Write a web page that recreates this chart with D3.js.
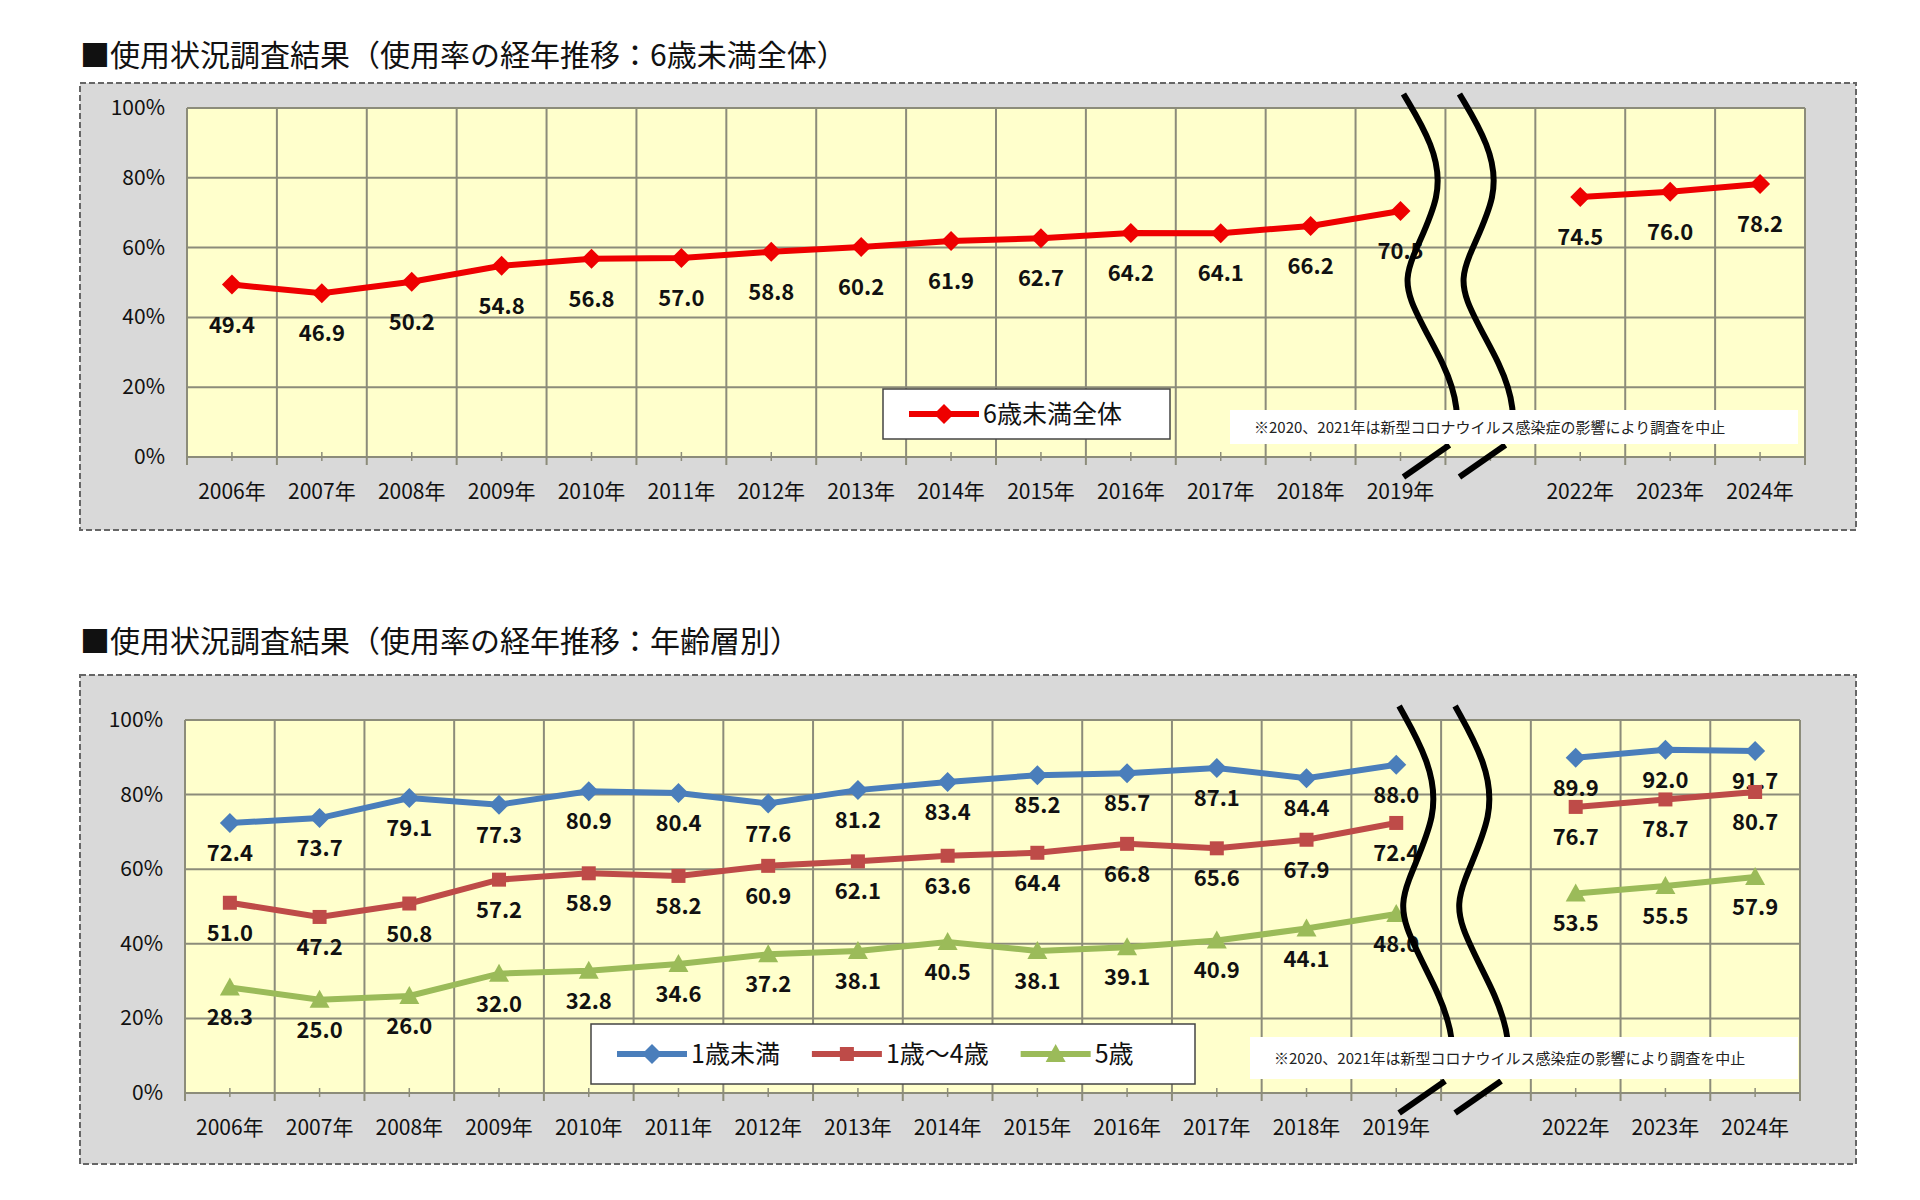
<!DOCTYPE html>
<html><head><meta charset="utf-8">
<script src="https://cdn.jsdelivr.net/npm/d3@7"></script>
<style>body{margin:0;background:#fff}text{font-family:"Noto Sans CJK JP","Noto Sans",sans-serif}</style>
</head><body><svg id="c" width="1920" height="1200"></svg>
<script>
const slots = ["2006年","2007年","2008年","2009年","2010年","2011年","2012年","2013年","2014年","2015年","2016年","2017年","2018年","2019年","gap","2022年","2023年","2024年"];
const years = ["2006年","2007年","2008年","2009年","2010年","2011年","2012年","2013年","2014年","2015年","2016年","2017年","2018年","2019年","2022年","2023年","2024年"];
const yTicks = [0,20,40,60,80,100];
const total = [49.4,46.9,50.2,54.8,56.8,57.0,58.8,60.2,61.9,62.7,64.2,64.1,66.2,70.5,74.5,76.0,78.2];
const under1 = [72.4,73.7,79.1,77.3,80.9,80.4,77.6,81.2,83.4,85.2,85.7,87.1,84.4,88.0,89.9,92.0,91.7];
const age1to4 = [51.0,47.2,50.8,57.2,58.9,58.2,60.9,62.1,63.6,64.4,66.8,65.6,67.9,72.4,76.7,78.7,80.7];
const age5 = [28.3,25.0,26.0,32.0,32.8,34.6,37.2,38.1,40.5,38.1,39.1,40.9,44.1,48.0,53.5,55.5,57.9];
const note = "※2020、2021年は新型コロナウイルス感染症の影響により調査を中止";

const svg = d3.select("#c");

function marker(g,shape,px,py,color){
  if(shape==="diamond") g.append("path").attr("d",`M${px},${py-10}L${px+10},${py}L${px},${py+10}L${px-10},${py}Z`).attr("fill",color);
  else if(shape==="square") g.append("rect").attr("x",px-7).attr("y",py-7).attr("width",14).attr("height",14).attr("fill",color);
  else g.append("path").attr("d",`M${px},${py-10}L${px+10},${py+8}L${px-10},${py+8}Z`).attr("fill",color);
}

function chart(cfg){
  const g = svg.append("g");
  g.append("text").attr("x",cfg.box[0]).attr("y",cfg.titleY).attr("font-size",30).attr("fill","#111").text(cfg.title);
  g.append("rect").attr("x",cfg.box[0]).attr("y",cfg.box[1]).attr("width",cfg.box[2]-cfg.box[0]).attr("height",cfg.box[3]-cfg.box[1])
    .attr("fill","#d9d9d9").attr("stroke","#666").attr("stroke-width",2).attr("stroke-dasharray","6,3");
  const [x0,y0,x1,y1] = cfg.plot;
  const x = d3.scaleBand().domain(slots).range([x0,x1]);
  const y = d3.scaleLinear().domain([0,100]).range([y1,y0]);
  g.append("rect").attr("x",x0).attr("y",y0).attr("width",x1-x0).attr("height",y1-y0).attr("fill","#ffffcc");
  yTicks.forEach(t=>g.append("line").attr("x1",x0).attr("x2",x1).attr("y1",y(t)).attr("y2",y(t)).attr("stroke","#8c8c7a").attr("stroke-width",2));
  slots.forEach((s,i)=>{
    const xx = x(s);
    g.append("line").attr("x1",xx).attr("x2",xx).attr("y1",y0).attr("y2",y1+8).attr("stroke","#8c8c7a").attr("stroke-width",2);
    g.append("line").attr("x1",xx+x.bandwidth()/2).attr("x2",xx+x.bandwidth()/2).attr("y1",y1-5).attr("y2",y1+4).attr("stroke","#8c8c7a").attr("stroke-width",1.5);
  });
  g.append("line").attr("x1",x1).attr("x2",x1).attr("y1",y0).attr("y2",y1+8).attr("stroke","#8c8c7a").attr("stroke-width",2);
  g.append("line").attr("x1",x0).attr("x2",x0).attr("y1",y0).attr("y2",y1).attr("stroke","#8c8c7a").attr("stroke-width",2);
  yTicks.forEach(t=>g.append("text").attr("x",x0-22).attr("y",y(t)+7).attr("text-anchor","end").attr("font-size",21).attr("fill","#111").text(t+"%"));
  years.forEach(s=>g.append("text").attr("x",x(s)+x.bandwidth()/2).attr("y",y1+42).attr("text-anchor","middle").attr("font-size",21).attr("fill","#111").text(s));
  const cx = s=>x(s)+x.bandwidth()/2;
  cfg.series.forEach(se=>{
    const a = se.values.slice(0,14), b = se.values.slice(14);
    g.append("path").attr("d",d3.line().x((d,i)=>cx(years[i])).y(d=>y(d))(a)).attr("fill","none").attr("stroke",se.color).attr("stroke-width",6);
    g.append("path").attr("d",d3.line().x((d,i)=>cx(years[i+14])).y(d=>y(d))(b)).attr("fill","none").attr("stroke",se.color).attr("stroke-width",6);
    se.values.forEach((v,i)=>{
      const px=cx(years[i]), py=y(v);
      marker(g,se.shape,px,py,se.color);
      g.append("text").attr("x",px).attr("y",py+cfg.labOff).attr("text-anchor","middle").attr("font-size",22).attr("font-weight","bold").attr("fill","#111").text(v.toFixed(1));
    });
  });
  // breaks
  const gx = x("gap");
  [gx-42, gx+14].forEach(bx=>{
    const top=y0-14, bot=y1-28, h=bot-top;
    const pts=[[bx,top],[bx+30,top+h*0.15],[bx+40,top+h*0.3],[bx+5,top+h*0.5],[bx,top+h*0.6],[bx+45,top+h*0.82],[bx+55,top+h*0.95],[bx+52,bot]];
    g.append("path").attr("d",d3.line().curve(d3.curveBasis)(pts)).attr("fill","none").attr("stroke","#000").attr("stroke-width",6);
    g.append("line").attr("x1",bx).attr("y1",y1+20).attr("x2",bx+46).attr("y2",y1-12).attr("stroke","#000").attr("stroke-width",6);
  });
  const nb=cfg.noteBox;
  g.append("rect").attr("x",nb[0]).attr("y",nb[1]).attr("width",nb[2]).attr("height",nb[3]).attr("fill","#fff");
  g.append("text").attr("x",nb[0]+24).attr("y",nb[1]+nb[3]/2+6).attr("font-size",15).attr("fill","#222").text(note);
  const lb=cfg.legBox;
  g.append("rect").attr("x",lb[0]).attr("y",lb[1]).attr("width",lb[2]).attr("height",lb[3]).attr("fill","#fff").attr("stroke","#444").attr("stroke-width",1.5);
  let lx=lb[0]+26; const ly=lb[1]+lb[3]/2;
  cfg.series.forEach(se=>{
    g.append("line").attr("x1",lx).attr("x2",lx+70).attr("y1",ly).attr("y2",ly).attr("stroke",se.color).attr("stroke-width",6);
    marker(g,se.shape,lx+35,ly,se.color);
    const t=g.append("text").attr("x",lx+74).attr("y",ly+9).attr("font-size",25).attr("fill","#111").text(se.name);
    lx += 74 + t.node().getComputedTextLength() + 32;
  });
}

chart({title:"■使用状況調査結果（使用率の経年推移：6歳未満全体）",titleY:66,box:[80,83,1856,530],plot:[187,108,1805,457],labOff:48,
  series:[{name:"6歳未満全体",values:total,color:"#ee0000",shape:"diamond"}],
  noteBox:[1230,410,568,34],legBox:[883,389,287,50]});
chart({title:"■使用状況調査結果（使用率の経年推移：年齢層別）",titleY:652,box:[80,675,1856,1164],plot:[185,720,1800,1093],labOff:38,
  series:[{name:"1歳未満",values:under1,color:"#4a7ebb",shape:"diamond"},{name:"1歳〜4歳",values:age1to4,color:"#be4b48",shape:"square"},{name:"5歳",values:age5,color:"#9bbb59",shape:"triangle"}],
  noteBox:[1250,1037,548,42],legBox:[591,1024,604,60]});
</script></body></html>
